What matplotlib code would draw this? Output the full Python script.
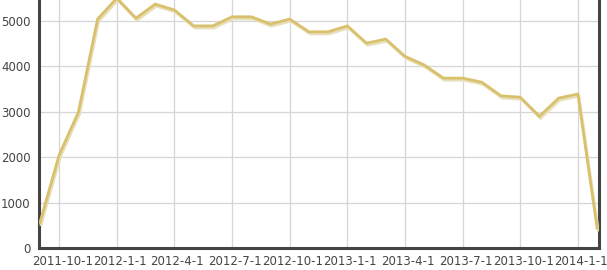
import matplotlib
matplotlib.use("Agg")
import matplotlib.pyplot as plt
import matplotlib.patheffects as pe
import matplotlib.transforms as mtransforms
import numpy as np

months = ["2011-9", "2011-10", "2011-11", "2011-12", "2012-1", "2012-2", "2012-3",
          "2012-4", "2012-5", "2012-6", "2012-7", "2012-8", "2012-9", "2012-10",
          "2012-11", "2012-12", "2013-1", "2013-2", "2013-3", "2013-4", "2013-5",
          "2013-6", "2013-7", "2013-8", "2013-9", "2013-10", "2013-11", "2013-12",
          "2014-1", "2014-2"]
values = [560, 2050, 2990, 5040, 5500, 5060, 5370, 5240, 4890, 4890, 5090, 5090,
          4930, 5040, 4760, 4760, 4890, 4510, 4600, 4220, 4030, 3740, 3740, 3650,
          3350, 3320, 2900, 3300, 3390, 440]
tick_months = ["2011-10", "2012-1", "2012-4", "2012-7", "2012-10", "2013-1",
               "2013-4", "2013-7", "2013-10", "2014-1"]
tick_labels = ["2011-10-1", "2012-1-1", "2012-4-1", "2012-7-1", "2012-10-1",
               "2013-1-1", "2013-4-1", "2013-7-1", "2013-10-1", "2014-1-1"]
yticks = [0, 1000, 2000, 3000, 4000, 5000]

W, H = 607, 270
fig = plt.figure(figsize=(W / 100, H / 100), dpi=100)
ax = fig.add_axes([39 / W, 1 - 248 / H, (599 - 39) / W, 248 / H])

x = np.arange(len(months))
ax.plot(x, values, color="#d9c06c", lw=2.0, solid_joinstyle="miter",
        path_effects=[pe.SimpleLineShadow(offset=(0.8, -1.5), shadow_color="#e8dfbb", alpha=1.0),
                      pe.Normal()], zorder=3)

ax.set_xlim(-0.05, 29.1)
ax.set_ylim(0, 5460)
tpos = [months.index(m) for m in tick_months]
ax.set_xticks(tpos)
ax.set_xticklabels(tick_labels)
ax.set_yticks(yticks)
ax.set_yticklabels([str(v) for v in yticks])

ax.grid(True, color="#d6d6d6", lw=0.9)
ax.set_axisbelow(True)
ax.tick_params(length=0, labelsize=8.5, colors="#444444", pad=5)
ax.tick_params(axis="y", pad=6)
off = mtransforms.ScaledTranslation(3 / 100, 0, fig.dpi_scale_trans)
for lbl in ax.get_xticklabels():
    lbl.set_transform(lbl.get_transform() + off)
for s in ["left", "bottom", "right"]:
    ax.spines[s].set_color("#444444")
    ax.spines[s].set_linewidth(2.2)
ax.spines["top"].set_visible(False)

fig.savefig("out.png", dpi=100)
